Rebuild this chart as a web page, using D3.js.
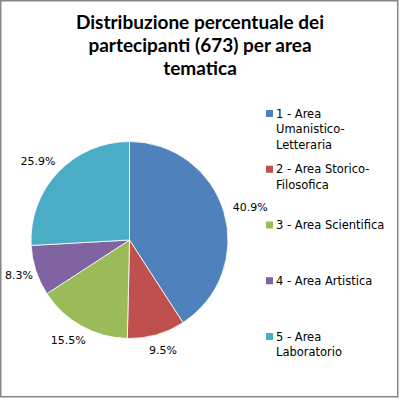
<!DOCTYPE html>
<html lang="it">
  <head>
    <meta charset="UTF-8"/>
    <title>Distribuzione percentuale</title>
    <script src="https://d3js.org/d3.v7.min.js"></script>
    <style>
      body { margin: 0; background: #fff; }
      text { font-family: 'DejaVu Sans'; font-size: 11px; fill: #000; }
      .legend text { font-size: 11.5px; }
      .title { font-family: Lato; font-size: 19px; font-weight: bold; }
    </style>
  </head>
  <body>
    <script>

      // data
      const categories = ["1 - Area Umanistico-Letteraria", "2 - Area Storico-Filosofica",
                          "3 - Area Scientifica", "4 - Area Artistica", "5 - Area Laboratorio"]
      const legendLines = [["1 - Area", "Umanistico-", "Letteraria"],
                           ["2 - Area Storico-", "Filosofica"],
                           ["3 - Area Scientifica"],
                           ["4 - Area Artistica"],
                           ["5 - Area", "Laboratorio"]]
      const percents = [40.9, 9.5, 15.5, 8.3, 25.9]
      const titleLines = ["Distribuzione percentuale dei", "partecipanti (673) per area", "tematica"]
      const colors = ["#4F81BD", "#C0504D", "#9BBB59", "#8064A2", "#4BACC6"]

      const width = 400, height = 400
      const cx = 129.5, cy = 240, radius = 98.5

      const svg = d3.select("body").append("svg")
          .attr("width", width)
          .attr("height", height)

      // chart area border
      svg.append("rect")
          .attr("x", 0.75).attr("y", 0.75)
          .attr("width", 397).attr("height", 396)
          .attr("fill", "#fff")
          .attr("stroke", "#868686")
          .attr("stroke-width", 1.5)

      // title
      svg.append("g")
        .selectAll("text")
        .data(titleLines)
        .join("text")
          .attr("class", "title")
          .attr("x", width / 2)
          .attr("y", (d, i) => 29 + i * 23)
          .attr("text-anchor", "middle")
          .text(d => d)

      const data = categories.map((c, i) => ({name: c, value: percents[i], color: colors[i]}))

      const pie = d3.pie().value(d => d.value).sort(null)
      const arcs = pie(data)
      const arc = d3.arc().innerRadius(0).outerRadius(radius)
      const labelR = radius + 10

      const g = svg.append("g")
          .attr("transform", `translate(${cx},${cy})`)

      g.selectAll("path")
        .data(arcs)
        .join("path")
          .attr("d", arc)
          .attr("fill", d => d.data.color)
          .attr("stroke", "#fff")
          .attr("stroke-width", 0.8)

      // outside-end labels: box pushed away from the pie along the slice's mid angle,
      // kept inside the chart area
      const labels = g.selectAll("text")
        .data(arcs)
        .join("text")
          .attr("text-anchor", "middle")
          .attr("dy", "0.35em")
          .text(d => d.data.value.toFixed(1) + "%")

      labels.each(function(d) {
        const a = (d.startAngle + d.endAngle) / 2
        const w = this.getComputedTextLength(), h = 12
        let x = Math.sin(a) * (labelR + w / 2)
        const y = -Math.cos(a) * (labelR + h / 2)
        x = Math.max(x, 5 - cx + w / 2)
        d3.select(this).attr("x", x).attr("y", y)
      })

      // legend
      const legendY = d3.scaleLinear().domain([0, legendLines.length - 1]).range([110, 333])

      const item = svg.append("g")
          .attr("class", "legend")
        .selectAll("g")
        .data(legendLines)
        .join("g")
          .attr("transform", (d, i) => `translate(266,${legendY(i)})`)

      item.append("rect")
          .attr("width", 7).attr("height", 7)
          .attr("fill", (d, i) => colors[i])

      item.selectAll("text")
        .data(d => d)
        .join("text")
          .attr("x", 10)
          .attr("y", (d, i) => 7.5 + i * 15.5)
          .text(d => d)

    </script>
  </body>
</html>
